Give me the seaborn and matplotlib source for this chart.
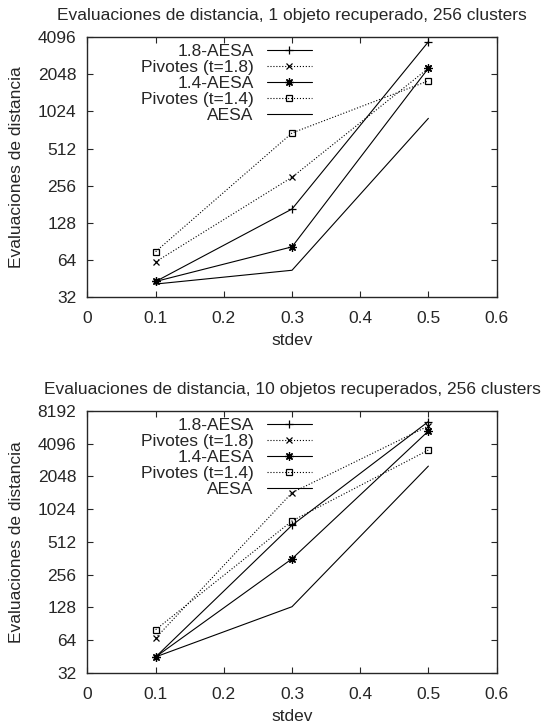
import matplotlib
matplotlib.use("Agg")
import matplotlib.pyplot as plt
import pandas as pd
import seaborn as sns

stdev = [0.1, 0.3, 0.5]
series = ["1.8-AESA", "Pivotes (t=1.8)", "1.4-AESA", "Pivotes (t=1.4)", "AESA"]

# 1 objeto recuperado
top_vals = {
    "1.8-AESA": [43, 166, 3750],
    "Pivotes (t=1.8)": [62, 300, 2290],
    "1.4-AESA": [43, 82, 2290],
    "Pivotes (t=1.4)": [75, 685, 1810],
    "AESA": [41, 53, 900],
}
# 10 objetos recuperados
bot_vals = {
    "1.8-AESA": [45, 728, 6510],
    "Pivotes (t=1.8)": [67, 1448, 5930],
    "1.4-AESA": [45, 358, 5330],
    "Pivotes (t=1.4)": [80, 797, 3565],
    "AESA": [45, 130, 2540],
}

top_ticks = [32, 64, 128, 256, 512, 1024, 2048, 4096]
bot_ticks = [32, 64, 128, 256, 512, 1024, 2048, 4096, 8192]
x_ticks = [0, 0.1, 0.2, 0.3, 0.4, 0.5, 0.6]

styles = {
    "1.8-AESA": dict(linestyle="-", marker="+", markersize=6),
    "Pivotes (t=1.8)": dict(linestyle=":", marker="x", markersize=5),
    "1.4-AESA": dict(linestyle="-", marker=(8, 2, 0), markersize=6),
    "Pivotes (t=1.4)": dict(linestyle=":", marker="s", markersize=5, markerfacecolor="none"),
    "AESA": dict(linestyle="-", marker=None),
}

sns.set_style("ticks")
plt.rcParams["font.family"] = ["Liberation Sans", "DejaVu Sans"]
FS = 12.5
plt.rcParams["font.size"] = FS


def draw(ax, vals, yticks, title):
    for name in series:
        df = pd.DataFrame({"stdev": stdev, "evals": vals[name]})
        sns.lineplot(data=df, x="stdev", y="evals", ax=ax, color="black",
                     linewidth=0.8, markeredgewidth=0.9, markeredgecolor="black",
                     label=name, **styles[name])
    ax.set_yscale("log", base=2)
    ax.set_ylim(yticks[0], yticks[-1])
    ax.set_yticks(yticks)
    ax.set_yticklabels([str(t) for t in yticks])
    ax.minorticks_off()
    ax.set_xlim(0, 0.6)
    ax.set_xticks(x_ticks)
    ax.set_xticklabels(["0", "0.1", "0.2", "0.3", "0.4", "0.5", "0.6"])
    ax.tick_params(direction="in", top=True, right=True, length=4, width=0.8,
                   labelsize=FS)
    ax.tick_params(axis="x", pad=10)
    ax.tick_params(axis="y", pad=8)
    for s in ax.spines.values():
        s.set_visible(True)
        s.set_linewidth(1.0)
    ax.set_xlabel("stdev", fontsize=FS, labelpad=5)
    ax.set_ylabel("Evaluaciones de distancia", fontsize=FS, labelpad=10)
    ax.set_title(title, fontsize=FS, pad=12)
    leg = ax.legend(loc="upper right", bbox_to_anchor=(0.565, 1.0), frameon=False,
                    markerfirst=False, handlelength=2.6, handletextpad=0.75,
                    labelspacing=0.05, borderaxespad=0.0, fontsize=FS)
    leg._legend_handle_box.get_children()[0].align = "right"


fig = plt.figure(figsize=(5.44, 7.25), dpi=100)
ax1 = fig.add_axes([0.1608, 0.5899, 0.752, 0.359])
ax2 = fig.add_axes([0.1608, 0.0717, 0.752, 0.3618])
draw(ax1, top_vals, top_ticks, "Evaluaciones de distancia, 1 objeto recuperado, 256 clusters")
draw(ax2, bot_vals, bot_ticks, "Evaluaciones de distancia, 10 objetos recuperados, 256 clusters")

fig.savefig("out.png", dpi=100)
